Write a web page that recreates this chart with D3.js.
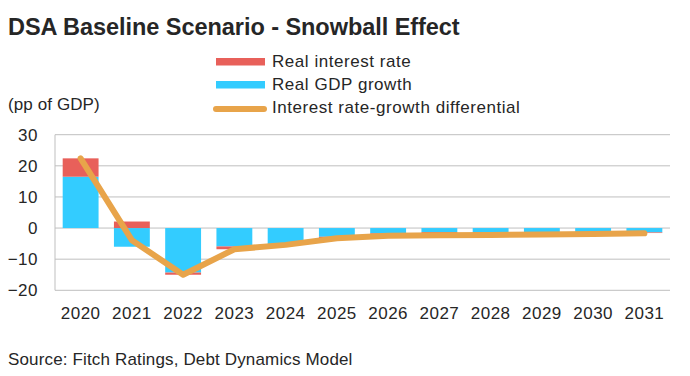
<!DOCTYPE html>
<html>
<head>
<meta charset="utf-8">
<script src="https://cdn.jsdelivr.net/npm/d3@7"></script>
<style>
  body { margin: 0; background: #fff; }
  text { font-family: "Liberation Sans", Arial, sans-serif; fill: #262626; }
</style>
</head>
<body>
<div id="chart"></div>
<script>
// data (pp of GDP)
const years = ["2020", "2021", "2022", "2023", "2024", "2025", "2026", "2027", "2028", "2029", "2030", "2031"];
const realInterest = [5.9, 2.1, -0.7, -0.9, -0.3, -0.5, -0.8, -0.9, -0.8, -0.7, -0.5, -0.2];
const gdpGrowth = [16.5, -6.0, -14.3, -5.9, -5.1, -2.8, -1.7, -1.3, -1.3, -1.3, -1.3, -1.4];
const differential = [22.4, -3.9, -15.0, -6.8, -5.4, -3.3, -2.5, -2.3, -2.2, -2.1, -1.9, -1.7];
const yTicks = [-20, -10, 0, 10, 20, 30];

const width = 690, height = 376;
const plot = { left: 55, right: 670, top: 134.7, bottom: 290.3 };

const colRed = "#E8605A", colBlue = "#33CCFF", colLine = "#E8A44A";

const svg = d3
  .select("#chart")
  .append("svg")
  .attr("width", width)
  .attr("height", height);

const x = d3.scaleBand().domain(years).range([plot.left, plot.right]).paddingInner(0.3).paddingOuter(0.15);
const y = d3.scaleLinear().domain([-20, 30]).range([plot.bottom, plot.top]);

// title
svg.append("text")
  .attr("x", 8).attr("y", 35)
  .style("font-size", "23.5px").style("font-weight", "bold")
  .style("letter-spacing", "-0.05px")
  .text("DSA Baseline Scenario - Snowball Effect");

// gridlines
svg.append("g")
  .selectAll("line")
  .data(yTicks)
  .join("line")
  .attr("x1", plot.left).attr("x2", plot.right)
  .attr("y1", d => y(d)).attr("y2", d => y(d))
  .attr("stroke", "#BFBFBF").attr("stroke-width", 1);

svg.append("line")
  .attr("x1", plot.left).attr("x2", plot.left)
  .attr("y1", y(30)).attr("y2", y(-20))
  .attr("stroke", "#BFBFBF");

// y axis labels
const yAxis = d3.axisLeft(y).tickValues(yTicks).tickSize(0).tickPadding(17);
svg.append("g")
  .attr("transform", "translate(" + plot.left + ",0)")
  .call(yAxis)
  .call(g => g.select(".domain").remove())
  .selectAll("text")
  .style("font-size", "17px")
  .style("letter-spacing", "0.5px")
  .style("font-family", "'Liberation Sans', Arial, sans-serif")
  .attr("fill", "#262626");

// x axis labels
const xAxis = d3.axisBottom(x).tickSize(0).tickPadding(17);
svg.append("g")
  .attr("transform", "translate(0," + plot.bottom + ")")
  .call(xAxis)
  .call(g => g.select(".domain").remove())
  .selectAll("text")
  .style("font-size", "17px")
  .style("letter-spacing", "0.5px")
  .style("font-family", "'Liberation Sans', Arial, sans-serif")
  .attr("fill", "#262626");

// stacked bars: growth first from zero, interest stacked on top in same direction
const rows = years.map((yr, i) => ({ year: yr, gdp: gdpGrowth[i], rate: realInterest[i] }));
const bars = svg.append("g");
rows.forEach(d => {
  const segs = [];
  let pos = 0, neg = 0;
  [["gdp", colBlue], ["rate", colRed]].forEach(([k, c]) => {
    const v = d[k];
    let y0, y1;
    if (v >= 0) { y0 = pos; y1 = pos + v; pos = y1; }
    else { y0 = neg; y1 = neg + v; neg = y1; }
    segs.push({ y0, y1, c });
  });
  bars.selectAll(null)
    .data(segs)
    .join("rect")
    .attr("x", x(d.year))
    .attr("width", x.bandwidth())
    .attr("y", s => y(Math.max(s.y0, s.y1)))
    .attr("height", s => Math.abs(y(s.y0) - y(s.y1)))
    .attr("fill", s => s.c);
});

// differential line
const line = d3.line()
  .x((d, i) => x(years[i]) + x.bandwidth() / 2)
  .y(d => y(d));
svg.append("path")
  .datum(differential)
  .attr("d", line)
  .attr("fill", "none")
  .attr("stroke", colLine)
  .attr("stroke-width", 6)
  .attr("stroke-linejoin", "round")
  .attr("stroke-linecap", "round");

// legend
const legend = svg.append("g");
const legendItems = ["Real interest rate", "Real GDP growth", "Interest rate-growth differential"];
legendItems.forEach((name, i) => {
  const ly = 62 + i * 23;
  if (i < 2) {
    legend.append("rect")
      .attr("x", 216).attr("y", ly - 4)
      .attr("width", 49).attr("height", 7.5)
      .attr("fill", i === 0 ? colRed : colBlue);
  } else {
    legend.append("line")
      .attr("x1", 216).attr("x2", 264)
      .attr("y1", ly + 1).attr("y2", ly + 1)
      .attr("stroke", colLine).attr("stroke-width", 6)
      .attr("stroke-linecap", "round");
  }
  legend.append("text")
    .attr("x", 272).attr("y", ly + 5)
    .style("font-size", "17px")
    .style("letter-spacing", "0.55px")
    .text(name);
});

// unit label
svg.append("text")
  .attr("x", 8).attr("y", 110)
  .style("font-size", "17px")
  .style("letter-spacing", "0.1px")
  .text("(pp of GDP)");

// source
svg.append("text")
  .attr("x", 8).attr("y", 365)
  .style("font-size", "17px")
  .style("letter-spacing", "0.15px")
  .text("Source: Fitch Ratings, Debt Dynamics Model");
</script>
</body>
</html>
